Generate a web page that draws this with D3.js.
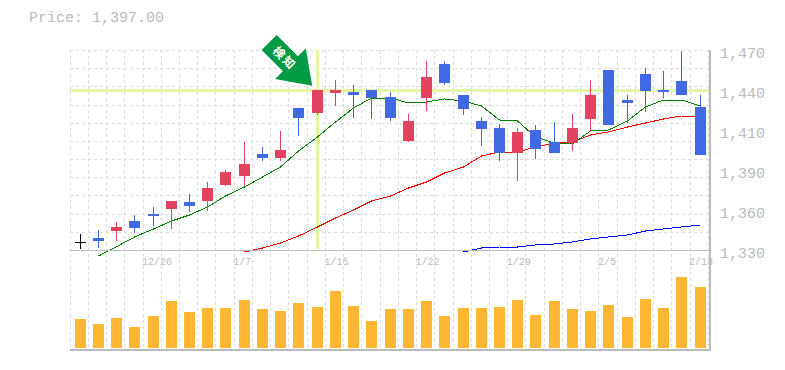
<!DOCTYPE html>
<html>
<head>
<meta charset="utf-8">
<script src="https://cdn.jsdelivr.net/npm/d3@7"></script>
<style>
    body { margin: 0; background: #fff; }
    svg { display: block; }
    text { font-family: "Liberation Mono", monospace; fill: #bbb; }
</style>
</head>
<body>
<div id="chart"></div>
<script>
// candles, one entry per trading day
var opens  = [1335.6,1338.4,1343.3,1350.3,1355.2,1358.7,1363.6,1364.3,1375.5,1381.8,1397.2,1394.4,1429.4,1425.9,1439.9,1440.6,1442,1437.1,1406.3,1436.4,1460.2,1438.5,1420.3,1415.4,1397.9,1414,1405.6,1404.9,1421.7,1456,1435,1453.2,1442,1448.3,1430.1];
var closes = [1335.6,1336.5,1346.1,1345.4,1353.8,1364.3,1360.8,1373.4,1384.6,1390.2,1394.4,1400,1422.4,1442,1442,1438.5,1436.4,1422.4,1420.3,1451.1,1446.9,1428.7,1414.7,1397.9,1412.6,1400.7,1397.9,1415.4,1438.5,1417.5,1432.9,1441.3,1440.6,1438.5,1396.5];
var highs  = [1341.2,1344,1349.6,1354.5,1360.1,1364.3,1369.2,1377.6,1386,1405.6,1402.1,1413.3,1429.4,1442,1449,1445.5,1442,1440.6,1425.2,1462.3,1462.3,1438.5,1423.1,1418.2,1415.4,1417.5,1419.6,1425.2,1449,1456,1438.5,1457.4,1455.3,1469.3,1438.5];
var lows   = [1331,1331.6,1336.3,1341.9,1346.8,1344.7,1356.6,1357.3,1374.8,1374.8,1392.3,1392.3,1409.8,1424.5,1430.8,1422.4,1421.7,1420.3,1405.6,1427.3,1445.5,1424.5,1402.8,1392.3,1378.3,1393.7,1397.9,1399.3,1412.6,1417.5,1418.9,1426.6,1436.4,1438.5,1396.5];
var volumes = [29,24,30,21,32,47,36,40,40,48,39,37,45,41,57,42,27,39,39,47,32,40,40,41,48,33,47,39,37,43,31,49,40,71,61];

// moving averages, they start late so each has its first day index
var maShort = [1325.8,1332.3,1339.1,1344.7,1350.3,1354.5,1360.1,1367.8,1374.1,1381.1,1388.1,1399.3,1409.1,1419.6,1429.4,1436.4,1436.4,1432.9,1433.6,1435.7,1434.3,1430.8,1421,1420.3,1409.1,1404.9,1404.2,1413.3,1414,1420.3,1430.1,1435,1435,1430.8];
var maMid   = [1328.6,1331.4,1334.9,1339.8,1346.1,1352.4,1358,1364.3,1367.8,1373.4,1377.6,1383.9,1388.1,1395.8,1398.6,1398.6,1402.1,1404.9,1405.6,1410.5,1412.6,1416.1,1418.9,1421.7,1423.8,1423.8];
var maLong  = [1328.6,1331.4,1332.1,1332.1,1333.5,1334.2,1335.6,1337.7,1339.1,1340.5,1343.3,1344.7,1346.1,1347.5];
var maShortStart = 1, maMidStart = 9, maLongStart = 21;

var priceTicks  = [1470,1442,1414,1386,1358,1330];
var priceLabels = ["1,470","1,440","1,410","1,390","1,360","1,330"];
var dateTicks   = [4,9,14,19,24,29,34];
var dateLabels  = ["12/26","1/7","1/15","1/22","1/29","2/5","2/13"];

var markDay = 13, markPrice = 1442;
var priceText = "Price: 1,397.00";
var markText = ["検", "知"];

var width = 785, height = 370;
var left = 70, right = 710, priceTop = 50, priceBottom = 250, volTop = 250, volBottom = 348, volAxis = 350;

var days = d3.range(opens.length);
var x = d3.scaleBand().domain(days).range([71, 709.2]);
var cx = d => Math.floor(x(d) + x.bandwidth() / 2);
var y = d3.scaleLinear().domain([1330, 1470]).range([priceBottom, priceTop]);
var yVol = d3.scaleLinear().domain([0, 98]).range([volBottom, volTop]);

var svg = d3.select("#chart").append("svg").attr("width", width).attr("height", height);

function addLine(parent, x1, y1, x2, y2) {
    return parent.append("line").attr("x1", x1).attr("y1", y1).attr("x2", x2).attr("y2", y2);
}

// grid
var grid = svg.append("g").attr("stroke", "#ddd").attr("stroke-dasharray", "3,3").attr("shape-rendering", "crispEdges");
d3.range(12).forEach(i => {
    var gy = Math.round(priceTop + i * (priceBottom - priceTop) / 11) + 0.5;
    addLine(grid, left, gy, right, gy);
});
days.concat([days.length]).forEach(d => {
    var gx = Math.floor(left + 0.1 + d * x.bandwidth()) + 0.5;
    addLine(grid, gx, priceTop, gx, volAxis);
});

// crosshair on the marked candle
var cross = svg.append("g").attr("stroke", "#e2f6a6").attr("stroke-width", 3).attr("shape-rendering", "crispEdges");
addLine(cross, left, y(markPrice) + 0.5, right, y(markPrice) + 0.5);
addLine(cross, cx(markDay) + 0.5, priceTop, cx(markDay) + 0.5, priceBottom - 1);

// moving averages
function drawMa(values, start, color) {
    var line = d3.line().x((v, i) => cx(start + i) + 0.5).y(v => y(v));
    svg.append("path").datum(values).attr("d", line)
        .attr("fill", "none").attr("stroke", color).attr("stroke-width", 1)
        .attr("shape-rendering", "crispEdges");
}
drawMa(maLong, maLongStart, "#0000ff");
drawMa(maMid, maMidStart, "#ff0000");
drawMa(maShort, maShortStart, "#008000");

// candles
var candleColor = d => closes[d] > opens[d] ? "#e2435f" : closes[d] < opens[d] ? "#4169e1" : "#000";
var candle = svg.append("g").attr("shape-rendering", "crispEdges").selectAll("g").data(days).enter().append("g");
candle.append("line")
    .attr("x1", d => cx(d) + 0.5).attr("x2", d => cx(d) + 0.5)
    .attr("y1", d => y(highs[d])).attr("y2", d => y(lows[d]))
    .attr("stroke", candleColor);
candle.append("rect")
    .attr("x", d => cx(d) - 5)
    .attr("width", 11)
    .attr("y", d => y(Math.max(opens[d], closes[d])))
    .attr("height", d => Math.max(1, Math.abs(y(opens[d]) - y(closes[d]))))
    .attr("fill", candleColor);

// volume
svg.append("g").selectAll("rect").data(days).enter().append("rect")
    .attr("x", d => cx(d) - 5)
    .attr("width", 11)
    .attr("y", d => yVol(volumes[d]))
    .attr("height", d => volBottom - yVol(volumes[d]))
    .attr("fill", "#ffb733")
    .attr("shape-rendering", "crispEdges");

// axes
var yAxis = d3.axisRight(y).tickValues(priceTicks).tickSize(0).tickPadding(10)
    .tickFormat((d, i) => priceLabels[i]);
var gy = svg.append("g").attr("transform", "translate(" + right + ",0)").call(yAxis);
gy.select(".domain").remove();
gy.selectAll("text").attr("font-size", 15).attr("font-family", null).attr("dy", "0.35em").attr("y", 2);

var xAxis = d3.axisBottom(x).tickValues(dateTicks).tickSize(0).tickPadding(0)
    .tickFormat((d, i) => dateLabels[i]);
var gx = svg.append("g").attr("transform", "translate(0," + priceBottom + ")").call(xAxis);
gx.select(".domain").remove();
gx.selectAll("text").attr("font-size", 10).attr("font-family", null)
    .attr("text-anchor", "start").attr("x", -11).attr("y", 8);

var frame = svg.append("g").attr("stroke", "#bbb").attr("shape-rendering", "crispEdges");
addLine(frame, left, priceBottom + 0.5, right, priceBottom + 0.5);
addLine(frame, left, volAxis, right + 1, volAxis).attr("stroke-width", 2);
addLine(frame, right, priceTop, right, volAxis).attr("stroke-width", 2);

svg.append("text").attr("x", 29).attr("y", 22).attr("font-size", 15).text(priceText);

// arrow, drawn in its own frame and turned onto the marked candle
var arrow = svg.append("g").attr("transform", "translate(" + (cx(markDay) - 4.7) + "," + (y(markPrice) - 4.3) + ") rotate(45)");
arrow.append("path").attr("d", "M0,0L-31,-21.7L-31,-10.6L-61,-10.6L-61,10.6L-31,10.6L-31,21.7Z").attr("fill", "#009944");
arrow.selectAll("text.mark").data(markText).enter().append("text")
    .attr("class", "mark")
    .attr("x", (d, i) => -47 + i * 14)
    .attr("y", 4.5)
    .attr("text-anchor", "middle")
    .style("fill", "#fff").style("font-family", "'Noto Sans CJK JP'").style("font-weight", "bold").style("font-size", "12px")
    .text(d => d);
</script>
</body>
</html>
